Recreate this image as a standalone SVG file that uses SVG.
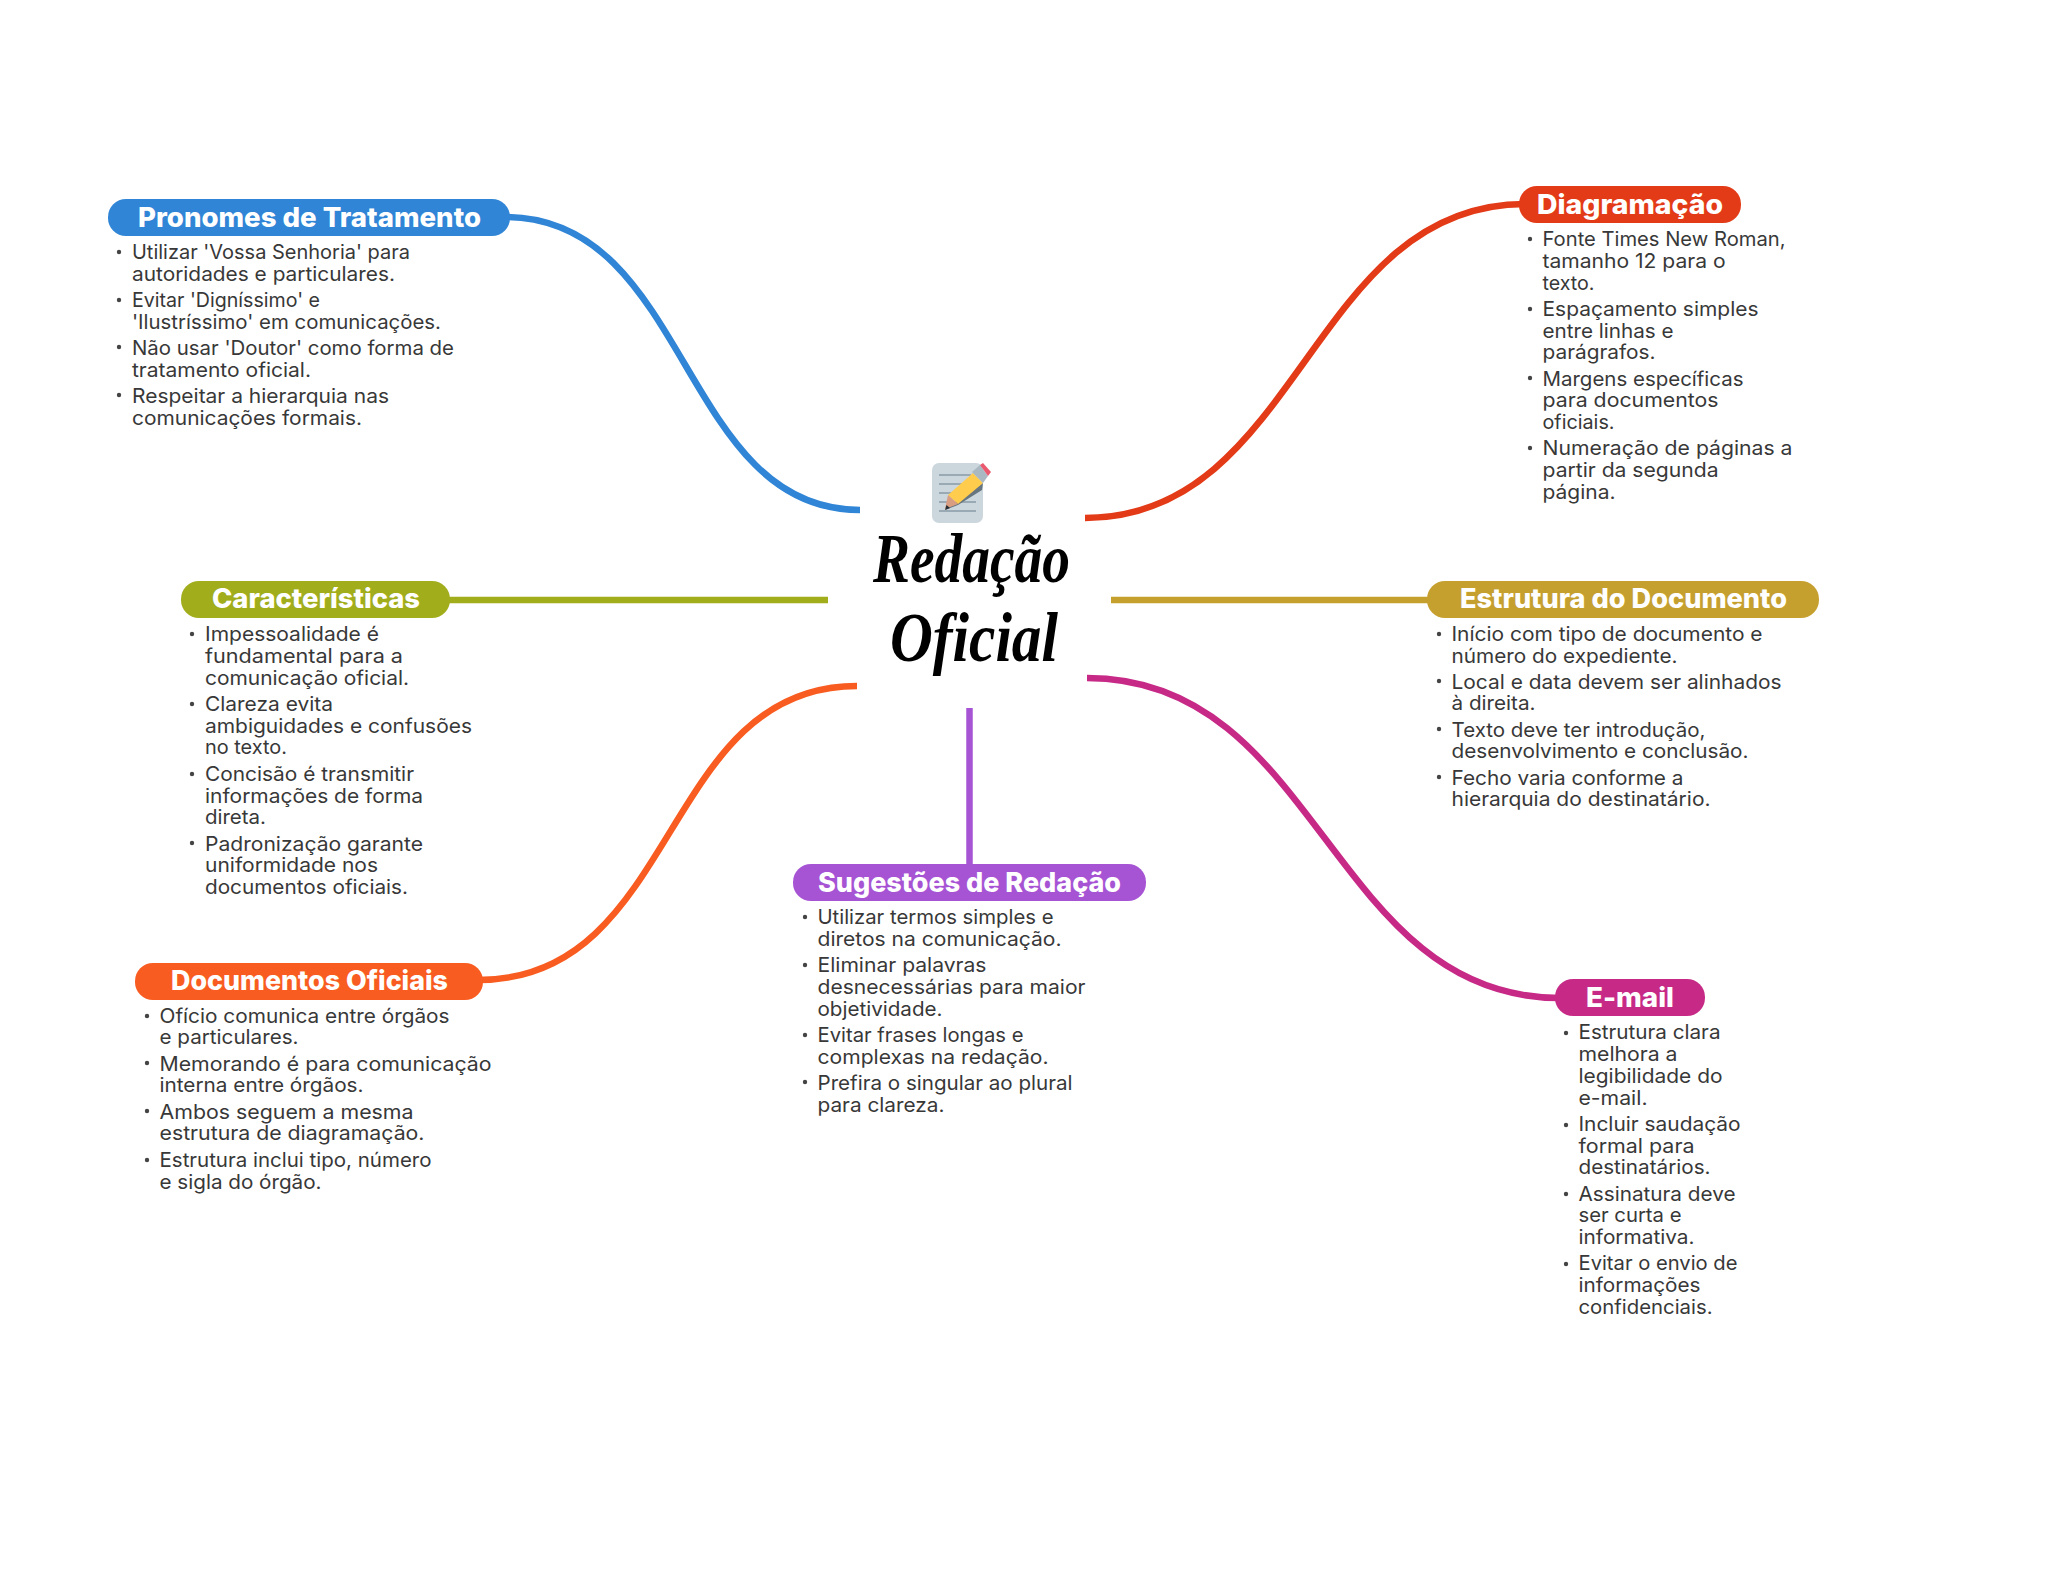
<svg xmlns="http://www.w3.org/2000/svg" width="2048" height="1569" viewBox="0 0 2048 1569">
<style>
.c{fill:none;stroke-width:6.5}
.t{font-family:Inter,"Liberation Sans",sans-serif;font-weight:800;font-size:27px;fill:#fff}
.l{font-family:Inter,"Liberation Sans",sans-serif;font-weight:400;font-size:20px;fill:#383838}
.b{fill:#444}
.m{font-family:"Liberation Serif",serif;font-style:italic;font-weight:700;font-size:70px;fill:#000}
</style>
<rect width="2048" height="1569" fill="#fff"/>
<g id="connectors">
<path class="c" stroke="#3085d6" d="M505,217C690,217 680,510 860,510"/>
<path class="c" stroke="#e33a18" d="M1085,518C1300,518 1310,204 1525,204"/>
<path class="c" stroke="#a2ad1c" d="M445,600H828"/>
<path class="c" stroke="#c6a02f" d="M1111,600H1432"/>
<path class="c" stroke="#f95c20" d="M478,980C680,980 660,686 857,686"/>
<path class="c" stroke="#a653d4" d="M969.500,708V870"/>
<path class="c" stroke="#c72a86" d="M1087,678C1320,678 1330,998 1560,998"/>
</g>
<g id="central">
<rect x="932" y="463" width="51" height="60" rx="7" fill="#ccd6dd"/>
<path d="M939,475H971M939,484H968M939,493H962M939,502H976M939,511H976" stroke="#99aab5" stroke-width="2" fill="none"/>
<path d="M945,510L983,483L982,490L958,505Z" fill="#66757f"/>
<path d="M973,473L983,483L958,504L948,495Z" fill="#ffcc4d"/>
<path d="M948,495L958,504L945,509Z" fill="#d99e82"/>
<path d="M945,510L946.500,505L950,508Z" fill="#292f33"/>
<path d="M972,472L980,465L988,476L983,483Z" fill="#aab8c2"/>
<path d="M980,465L983,463L991,472L988,476Z" fill="#ea596e"/>
<text class="m" x="873" y="582" textLength="197" lengthAdjust="spacingAndGlyphs">Redação</text>
<text class="m" x="890" y="661" textLength="168" lengthAdjust="spacingAndGlyphs">Oficial</text>
</g>
<g id="pronomes">
<rect x="108" y="199" width="402" height="37" rx="18" fill="#3085d6"/>
<text class="t" x="138" y="227" textLength="343" lengthAdjust="spacingAndGlyphs">Pronomes de Tratamento</text>
<circle class="b" cx="119" cy="252" r="2.2"/><circle class="b" cx="119" cy="300" r="2.2"/><circle class="b" cx="119" cy="347" r="2.2"/><circle class="b" cx="119" cy="395" r="2.2"/>
<text class="l" x="132" y="259" textLength="278" lengthAdjust="spacingAndGlyphs">Utilizar 'Vossa Senhoria' para</text>
<text class="l" x="132" y="281" textLength="263" lengthAdjust="spacingAndGlyphs">autoridades e particulares.</text>
<text class="l" x="132" y="307" textLength="188" lengthAdjust="spacingAndGlyphs">Evitar 'Digníssimo' e</text>
<text class="l" x="132" y="329" textLength="309" lengthAdjust="spacingAndGlyphs">'Ilustríssimo' em comunicações.</text>
<text class="l" x="132" y="355" textLength="322" lengthAdjust="spacingAndGlyphs">Não usar 'Doutor' como forma de</text>
<text class="l" x="132" y="377" textLength="179" lengthAdjust="spacingAndGlyphs">tratamento oficial.</text>
<text class="l" x="132" y="403" textLength="257" lengthAdjust="spacingAndGlyphs">Respeitar a hierarquia nas</text>
<text class="l" x="132" y="425" textLength="230" lengthAdjust="spacingAndGlyphs">comunicações formais.</text>
</g>
<g id="diagramacao">
<rect x="1519" y="186" width="222" height="37" rx="18" fill="#e33a18"/>
<text class="t" x="1537" y="214" textLength="186" lengthAdjust="spacingAndGlyphs">Diagramação</text>
<circle class="b" cx="1530" cy="239" r="2.2"/><circle class="b" cx="1530" cy="309" r="2.2"/><circle class="b" cx="1530" cy="378" r="2.2"/><circle class="b" cx="1530" cy="448" r="2.2"/>
<text class="l" x="1542.500" y="246" textLength="243" lengthAdjust="spacingAndGlyphs">Fonte Times New Roman,</text>
<text class="l" x="1542.500" y="268" textLength="183" lengthAdjust="spacingAndGlyphs">tamanho 12 para o</text>
<text class="l" x="1542.500" y="290" textLength="52" lengthAdjust="spacingAndGlyphs">texto.</text>
<text class="l" x="1542.500" y="316" textLength="216" lengthAdjust="spacingAndGlyphs">Espaçamento simples</text>
<text class="l" x="1542.500" y="338" textLength="131" lengthAdjust="spacingAndGlyphs">entre linhas e</text>
<text class="l" x="1542.500" y="359" textLength="113" lengthAdjust="spacingAndGlyphs">parágrafos.</text>
<text class="l" x="1542.500" y="386" textLength="201" lengthAdjust="spacingAndGlyphs">Margens específicas</text>
<text class="l" x="1542.500" y="407" textLength="176" lengthAdjust="spacingAndGlyphs">para documentos</text>
<text class="l" x="1542.500" y="429" textLength="72" lengthAdjust="spacingAndGlyphs">oficiais.</text>
<text class="l" x="1542.500" y="455" textLength="250" lengthAdjust="spacingAndGlyphs">Numeração de páginas a</text>
<text class="l" x="1542.500" y="477" textLength="176" lengthAdjust="spacingAndGlyphs">partir da segunda</text>
<text class="l" x="1542.500" y="499" textLength="73" lengthAdjust="spacingAndGlyphs">página.</text>
</g>
<g id="caracteristicas">
<rect x="181" y="581" width="269" height="37" rx="18" fill="#a2ad1c"/>
<text class="t" x="212" y="608" textLength="208" lengthAdjust="spacingAndGlyphs">Características</text>
<circle class="b" cx="192" cy="634" r="2.2"/><circle class="b" cx="192" cy="704" r="2.2"/><circle class="b" cx="192" cy="774" r="2.2"/><circle class="b" cx="192" cy="843" r="2.2"/>
<text class="l" x="205" y="641" textLength="174" lengthAdjust="spacingAndGlyphs">Impessoalidade é</text>
<text class="l" x="205" y="663" textLength="198" lengthAdjust="spacingAndGlyphs">fundamental para a</text>
<text class="l" x="205" y="685" textLength="204" lengthAdjust="spacingAndGlyphs">comunicação oficial.</text>
<text class="l" x="205" y="711" textLength="128" lengthAdjust="spacingAndGlyphs">Clareza evita</text>
<text class="l" x="205" y="733" textLength="267" lengthAdjust="spacingAndGlyphs">ambiguidades e confusões</text>
<text class="l" x="205" y="754" textLength="82" lengthAdjust="spacingAndGlyphs">no texto.</text>
<text class="l" x="205" y="781" textLength="209" lengthAdjust="spacingAndGlyphs">Concisão é transmitir</text>
<text class="l" x="205" y="803" textLength="218" lengthAdjust="spacingAndGlyphs">informações de forma</text>
<text class="l" x="205" y="824" textLength="61" lengthAdjust="spacingAndGlyphs">direta.</text>
<text class="l" x="205" y="851" textLength="218" lengthAdjust="spacingAndGlyphs">Padronização garante</text>
<text class="l" x="205" y="872" textLength="173" lengthAdjust="spacingAndGlyphs">uniformidade nos</text>
<text class="l" x="205" y="894" textLength="203" lengthAdjust="spacingAndGlyphs">documentos oficiais.</text>
</g>
<g id="estrutura">
<rect x="1427" y="581" width="392" height="37" rx="18" fill="#c6a02f"/>
<text class="t" x="1460" y="608" textLength="327" lengthAdjust="spacingAndGlyphs">Estrutura do Documento</text>
<circle class="b" cx="1439" cy="634" r="2.2"/><circle class="b" cx="1439" cy="681" r="2.2"/><circle class="b" cx="1439" cy="729" r="2.2"/><circle class="b" cx="1439" cy="777" r="2.2"/>
<text class="l" x="1451.500" y="641" textLength="311" lengthAdjust="spacingAndGlyphs">Início com tipo de documento e</text>
<text class="l" x="1451.500" y="663" textLength="226" lengthAdjust="spacingAndGlyphs">número do expediente.</text>
<text class="l" x="1451.500" y="689" textLength="330" lengthAdjust="spacingAndGlyphs">Local e data devem ser alinhados</text>
<text class="l" x="1451.500" y="710" textLength="84" lengthAdjust="spacingAndGlyphs">à direita.</text>
<text class="l" x="1451.500" y="737" textLength="254" lengthAdjust="spacingAndGlyphs">Texto deve ter introdução,</text>
<text class="l" x="1451.500" y="758" textLength="297" lengthAdjust="spacingAndGlyphs">desenvolvimento e conclusão.</text>
<text class="l" x="1451.500" y="785" textLength="232" lengthAdjust="spacingAndGlyphs">Fecho varia conforme a</text>
<text class="l" x="1451.500" y="806" textLength="259" lengthAdjust="spacingAndGlyphs">hierarquia do destinatário.</text>
</g>
<g id="documentos">
<rect x="135" y="963" width="348" height="37" rx="18" fill="#f95c20"/>
<text class="t" x="171" y="990" textLength="277" lengthAdjust="spacingAndGlyphs">Documentos Oficiais</text>
<circle class="b" cx="147" cy="1016" r="2.2"/><circle class="b" cx="147" cy="1063" r="2.2"/><circle class="b" cx="147" cy="1111" r="2.2"/><circle class="b" cx="147" cy="1160" r="2.2"/>
<text class="l" x="159.500" y="1023" textLength="290" lengthAdjust="spacingAndGlyphs">Ofício comunica entre órgãos</text>
<text class="l" x="159.500" y="1044" textLength="139" lengthAdjust="spacingAndGlyphs">e particulares.</text>
<text class="l" x="159.500" y="1071" textLength="332" lengthAdjust="spacingAndGlyphs">Memorando é para comunicação</text>
<text class="l" x="159.500" y="1092" textLength="204" lengthAdjust="spacingAndGlyphs">interna entre órgãos.</text>
<text class="l" x="159.500" y="1119" textLength="254" lengthAdjust="spacingAndGlyphs">Ambos seguem a mesma</text>
<text class="l" x="159.500" y="1140" textLength="265" lengthAdjust="spacingAndGlyphs">estrutura de diagramação.</text>
<text class="l" x="159.500" y="1167" textLength="272" lengthAdjust="spacingAndGlyphs">Estrutura inclui tipo, número</text>
<text class="l" x="159.500" y="1189" textLength="162" lengthAdjust="spacingAndGlyphs">e sigla do órgão.</text>
</g>
<g id="sugestoes">
<rect x="793" y="864" width="353" height="37" rx="18" fill="#a653d4"/>
<text class="t" x="818" y="892" textLength="303" lengthAdjust="spacingAndGlyphs">Sugestões de Redação</text>
<circle class="b" cx="805" cy="917" r="2.2"/><circle class="b" cx="805" cy="965" r="2.2"/><circle class="b" cx="805" cy="1035" r="2.2"/><circle class="b" cx="805" cy="1082" r="2.2"/>
<text class="l" x="817.500" y="924" textLength="236" lengthAdjust="spacingAndGlyphs">Utilizar termos simples e</text>
<text class="l" x="817.500" y="946" textLength="244" lengthAdjust="spacingAndGlyphs">diretos na comunicação.</text>
<text class="l" x="817.500" y="972" textLength="169" lengthAdjust="spacingAndGlyphs">Eliminar palavras</text>
<text class="l" x="817.500" y="994" textLength="268" lengthAdjust="spacingAndGlyphs">desnecessárias para maior</text>
<text class="l" x="817.500" y="1016" textLength="125" lengthAdjust="spacingAndGlyphs">objetividade.</text>
<text class="l" x="817.500" y="1042" textLength="206" lengthAdjust="spacingAndGlyphs">Evitar frases longas e</text>
<text class="l" x="817.500" y="1064" textLength="231" lengthAdjust="spacingAndGlyphs">complexas na redação.</text>
<text class="l" x="817.500" y="1090" textLength="255" lengthAdjust="spacingAndGlyphs">Prefira o singular ao plural</text>
<text class="l" x="817.500" y="1112" textLength="127" lengthAdjust="spacingAndGlyphs">para clareza.</text>
</g>
<g id="email">
<rect x="1555" y="979" width="150" height="37" rx="18" fill="#c72a86"/>
<text class="t" x="1586" y="1007" textLength="88" lengthAdjust="spacingAndGlyphs">E-mail</text>
<circle class="b" cx="1566" cy="1033" r="2.2"/><circle class="b" cx="1566" cy="1125" r="2.2"/><circle class="b" cx="1566" cy="1194" r="2.2"/><circle class="b" cx="1566" cy="1264" r="2.2"/>
<text class="l" x="1578.500" y="1039" textLength="142" lengthAdjust="spacingAndGlyphs">Estrutura clara</text>
<text class="l" x="1578.500" y="1061" textLength="99" lengthAdjust="spacingAndGlyphs">melhora a</text>
<text class="l" x="1578.500" y="1083" textLength="144" lengthAdjust="spacingAndGlyphs">legibilidade do</text>
<text class="l" x="1578.500" y="1105" textLength="69" lengthAdjust="spacingAndGlyphs">e-mail.</text>
<text class="l" x="1578.500" y="1131" textLength="162" lengthAdjust="spacingAndGlyphs">Incluir saudação</text>
<text class="l" x="1578.500" y="1153" textLength="116" lengthAdjust="spacingAndGlyphs">formal para</text>
<text class="l" x="1578.500" y="1174" textLength="132" lengthAdjust="spacingAndGlyphs">destinatários.</text>
<text class="l" x="1578.500" y="1201" textLength="157" lengthAdjust="spacingAndGlyphs">Assinatura deve</text>
<text class="l" x="1578.500" y="1222" textLength="103" lengthAdjust="spacingAndGlyphs">ser curta e</text>
<text class="l" x="1578.500" y="1244" textLength="116" lengthAdjust="spacingAndGlyphs">informativa.</text>
<text class="l" x="1578.500" y="1270" textLength="159" lengthAdjust="spacingAndGlyphs">Evitar o envio de</text>
<text class="l" x="1578.500" y="1292" textLength="122" lengthAdjust="spacingAndGlyphs">informações</text>
<text class="l" x="1578.500" y="1314" textLength="134" lengthAdjust="spacingAndGlyphs">confidenciais.</text>
</g>
</svg>
